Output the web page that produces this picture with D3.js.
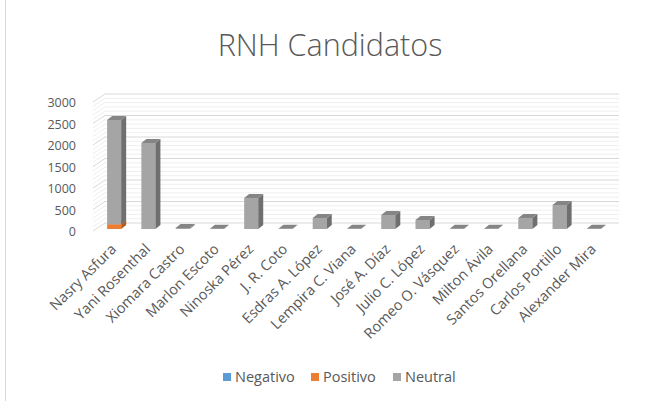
<!DOCTYPE html>
<html><head><meta charset="utf-8">
<script src="https://cdn.jsdelivr.net/npm/d3@7"></script>
<style>body{margin:0;background:#fff}svg{display:block}</style>
</head><body>
<svg id="c" width="660" height="401"></svg>
<script>
const categories = ["Nasry Asfura","Yani Rosenthal","Xiomara Castro","Marlon Escoto","Ninoska Pérez","J. R. Coto","Esdras A. López","Lempira C. Viana","José A. Díaz","Julio C. López","Romeo O. Vásquez","Milton Ávila","Santos Orellana","Carlos Portillo","Alexander Mira"];
const negativo = [0,0,0,0,0,0,0,0,0,0,0,0,0,0,0];
const positivo = [110,0,0,0,0,0,0,0,0,0,0,0,0,0,0];
const neutral  = [2425,2000,25,8,720,5,255,5,325,210,5,5,255,560,5];
const seriesNames = ["Negativo","Positivo","Neutral"];
const yTicks = [0,500,1000,1500,2000,2500,3000];
const title = "RNH Candidatos";

const colors = {Negativo:["#5B9BD5","#3f77a8","#4d88bd"],Positivo:["#ED7D31","#b35a1f","#c96a28"],Neutral:["#A5A5A5","#6f6f6f","#858585"]};
const svg = d3.select("#c");
const font = "'Open Sans', sans-serif";
const txt = "#595959";

svg.append("line").attr("x1",5.5).attr("x2",5.5).attr("y1",0).attr("y2",401).attr("stroke","#d9d9d9");

svg.append("text").attr("x",330).attr("y",56).attr("text-anchor","middle")
  .attr("font-family",font).attr("font-weight",300).attr("font-size",30.5).attr("fill",txt).text(title);

const x = d3.scaleBand().domain(categories).range([97,611]).paddingInner(0.59).paddingOuter(0.295);
const y = d3.scaleLinear().domain([0,3000]).range([229,100]);

const fx = 93;
const backLeft = 105, backRight = 619;
const g = svg.append("g");
d3.range(0,3001,100).forEach(v=>{
  const major = v%500===0;
  const col = major ? "#d9d9d9" : "#efefef";
  const yb = y(v)-6, yf = y(v)+2;
  g.append("line").attr("x1",backLeft).attr("x2",backRight).attr("y1",yb).attr("y2",yb).attr("stroke",col);
  g.append("line").attr("x1",fx).attr("y1",yf).attr("x2",backLeft).attr("y2",yb).attr("stroke",col);
});

svg.append("g").selectAll("text").data(yTicks).join("text")
  .attr("x",76).attr("y",d=>y(d)+3).attr("dy","0.35em").attr("text-anchor","end")
  .attr("font-family",font).attr("font-size",12.5).attr("fill",txt).text(d=>d);

const ddx = 5, ddy = -4;
const data = categories.map((c,i)=>({c, Negativo:negativo[i], Positivo:positivo[i], Neutral:neutral[i]}));
const stack = d3.stack().keys(seriesNames)(data);
const bw = x.bandwidth();
const bars = svg.append("g");
categories.forEach((c,i)=>{
  stack.forEach(s=>{
    const d = s[i];
    if (d[1]-d[0] <= 0) return;
    const [front, side, top] = colors[s.key];
    const x0 = x(c), x1 = x0+bw, yT = y(d[1]), yB = y(d[0]);
    const gg = bars.append("g");
    gg.append("rect").attr("x",x0).attr("y",yT).attr("width",bw).attr("height",yB-yT).attr("fill",front);
    gg.append("path").attr("d",`M${x1},${yB}L${x1+ddx},${yB+ddy}L${x1+ddx},${yT+ddy}L${x1},${yT}Z`).attr("fill",side);
    gg.append("path").attr("d",`M${x0},${yT}L${x0+ddx},${yT+ddy}L${x1+ddx},${yT+ddy}L${x1},${yT}Z`).attr("fill",top);
  });
});

svg.append("g").selectAll("text").data(categories).join("text")
  .attr("transform",d=>`translate(${x(d)+bw/2+3},${250}) rotate(-45)`)
  .attr("text-anchor","end").attr("font-family",font).attr("font-size",14.5).attr("fill",txt).text(d=>d);

const legX = [223,311,393];
const leg = svg.append("g");
seriesNames.forEach((n,i)=>{
  leg.append("rect").attr("x",legX[i]).attr("y",373).attr("width",8).attr("height",8).attr("fill",colors[n][0]);
  leg.append("text").attr("x",legX[i]+12).attr("y",377).attr("dy","0.35em").attr("font-family",font).attr("font-size",14.5).attr("fill",txt).text(n);
});
</script>
</body></html>
